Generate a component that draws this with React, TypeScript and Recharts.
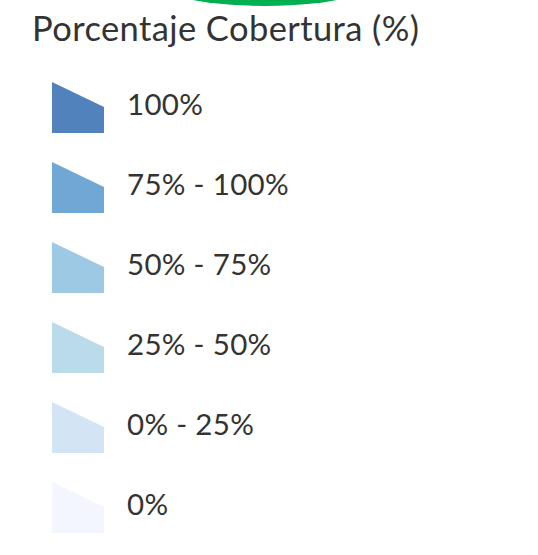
import React from 'react';
import { BarChart, Bar, XAxis, YAxis } from 'recharts';

const TITLE = 'Porcentaje Cobertura (%)';
const labels = ['100%', '75% - 100%', '50% - 75%', '25% - 50%', '0% - 25%', '0%'];
const colors = ['#5282bb', '#6fa7d5', '#9dc9e5', '#b9dbea', '#d3e4f4', '#f3f6fe'];
const presence = [1, 1, 1, 1, 1, 1];

const data = labels.map((label, i) => ({ label, color: colors[i], v: presence[i] }));

const Swatch = (props: any) => {
  const { y, height, payload } = props;
  const cy = y + height / 2;
  const x0 = 52;
  const w = 52;
  const h = 51;
  const top = cy - h / 2;
  const pts = `${x0},${top} ${x0 + w},${top + 25} ${x0 + w},${top + h} ${x0},${top + h}`;
  return (
    <g>
      <polygon points={pts} fill={payload.color} />
      <text x={127} y={cy + 7.5} fontFamily="Lato" fontSize={29.5} letterSpacing={0.3} fill="#333333">
        {payload.label}
      </text>
    </g>
  );
};

export default function App() {
  return (
    <div style={{ position: 'absolute', left: 0, top: 0, width: 538, height: 555, background: '#ffffff', overflow: 'hidden' }}>
      <div
        style={{
          position: 'absolute',
          left: 140,
          top: -60,
          width: 250,
          height: 66,
          borderRadius: '50%',
          background: '#00b050',
        }}
      />
      <div
        style={{
          position: 'absolute',
          left: 32,
          top: 8,
          fontFamily: 'Lato',
          fontSize: 34.5,
          letterSpacing: 0.4,
          color: '#333333',
          whiteSpace: 'nowrap',
          lineHeight: '40px',
        }}
      >
        {TITLE}
      </div>
      <BarChart
        width={538}
        height={555}
        data={data}
        layout="vertical"
        margin={{ top: 67, right: 0, bottom: 8, left: 0 }}
        style={{ position: 'absolute', left: 0, top: 0 }}
      >
        <XAxis type="number" hide domain={[0, 1]} />
        <YAxis type="category" dataKey="label" hide />
        <Bar dataKey="v" barSize={51} shape={Swatch} isAnimationActive={false} />
      </BarChart>
    </div>
  );
}
